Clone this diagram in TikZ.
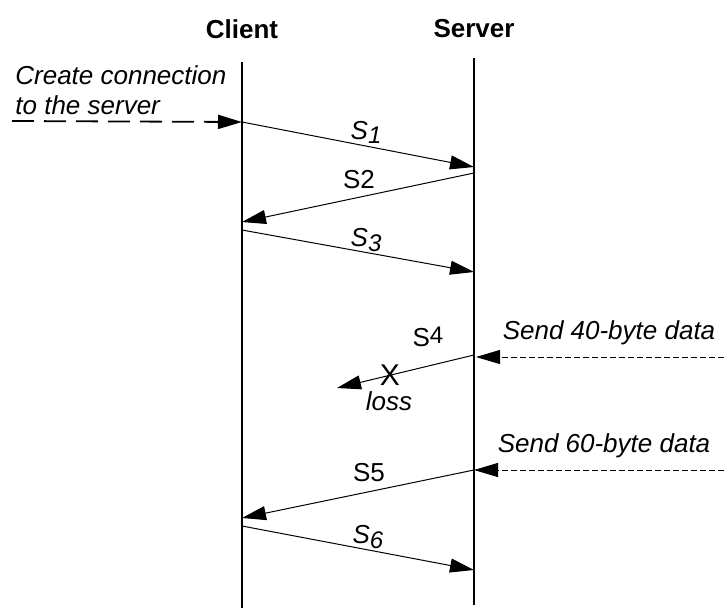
\documentclass[tikz,border=0pt]{standalone}
\usepackage{fontspec}
\setmainfont{Liberation Sans}
\usetikzlibrary{arrows.meta}

\newcommand{\slabit}[1]{\textit{S\raisebox{-0.3ex}{\fontsize{12}{12}\selectfont #1}}}

\begin{document}
\begin{tikzpicture}[
    x=0.5pt, y=-0.5pt,
    head/.style={font=\fontsize{13}{15}\selectfont\bfseries, inner sep=0pt},
    note/.style={font=\fontsize{13}{15}\selectfont\itshape, inner sep=0pt, align=left},
    msglabel/.style={font=\fontsize{13}{15}\selectfont, inner sep=0pt},
    lifeline/.style={line width=0.6pt},
    msg/.style={-{Triangle[length=12pt,width=7pt]}, line width=0.5pt},
    longdash/.style={msg, line width=0.9pt, dash pattern=on 11pt off 5pt},
    shortdash/.style={msg, dash pattern=on 3pt off 1.5pt}
]
  \useasboundingbox (0,0) rectangle (724,611);

  % participants
  \node[head] (client) at (242,29) {Client};
  \node[head] (server) at (474,29) {Server};
  \coordinate (clientTop) at (242,62);
  \coordinate (clientBot) at (242,608);
  \coordinate (serverTop) at (474,58);
  \coordinate (serverBot) at (474,605);
  \draw[lifeline] (clientTop) -- (clientBot);
  \draw[lifeline] (serverTop) -- (serverBot);

  % message end points
  \coordinate (c1) at (242,122);
  \coordinate (s1) at (474,167);
  \coordinate (s2) at (474,173);
  \coordinate (c2) at (242,222);
  \coordinate (c3) at (242,230);
  \coordinate (s3) at (474,272);
  \coordinate (s4) at (474,355);
  \coordinate (s4in) at (476,357);
  \coordinate (lost) at (337,388);
  \coordinate (s5) at (474,470);
  \coordinate (c5) at (242,518);
  \coordinate (c6) at (242,526);
  \coordinate (s6) at (474,570);
  \coordinate (app1) at (12,121);
  \coordinate (app4) at (724,357);
  \coordinate (app5) at (724,470);

  % application requests
  \node[note, anchor=west] (create) at (15,90) {Create connection\\to the server};
  \draw[longdash] (app1) -- (c1);
  \node[note] (send40) at (609,333) {Send 40-byte data};
  \draw[shortdash] (app4) -- (s4in);
  \node[note] (send60) at (604,446) {Send 60-byte data};
  \draw[shortdash] (app5) -- (s5);

  % segments
  \draw[msg] (c1) -- (s1);
  \node[msglabel] (lS1) at (366,132) {\slabit{1}};
  \draw[msg] (s2) -- (c2);
  \node[msglabel] (lS2) at (359,180) {S2};
  \draw[msg] (c3) -- (s3);
  \node[msglabel] (lS3) at (366,240) {\slabit{3}};
  \draw[msg] (s4) -- (lost);
  \node[msglabel] (lS4) at (428,337) {S\raisebox{0.25ex}{\fontsize{12}{12}\selectfont 4}};
  \node[msglabel, font=\fontsize{15}{15}\selectfont] (cross) at (390,375) {X};
  \node[note] (loss) at (389,401) {loss};
  \draw[msg] (s5) -- (c5);
  \node[msglabel] (lS5) at (369,473) {S5};
  \draw[msg] (c6) -- (s6);
  \node[msglabel] (lS6) at (368,537) {\slabit{6}};
\end{tikzpicture}
\end{document}
